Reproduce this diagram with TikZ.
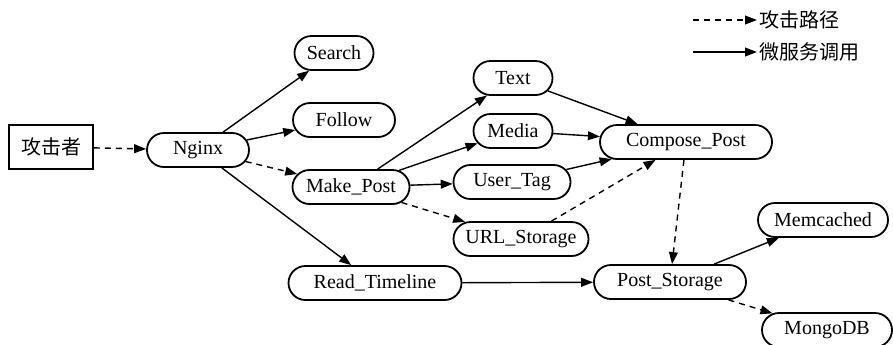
\documentclass[tikz,border=0pt]{standalone}
\usepackage{fontspec}
\setmainfont{Liberation Serif}
\newfontfamily\cjk{Noto Sans CJK SC}
\usetikzlibrary{arrows.meta,shapes.misc}

\begin{document}
\begin{tikzpicture}[
    x=0.5pt,y=-0.5pt,
    font=\fontsize{10}{12}\selectfont,
    svc/.style={rounded rectangle,draw,line width=0.9pt,
      minimum height=17pt,inner sep=2pt},
    src/.style={rectangle,draw,line width=0.9pt,
      minimum width=42pt,minimum height=22pt},
    call/.style={-{Triangle[length=6pt,width=4.4pt]},line width=0.7pt},
    attack/.style={call,dash pattern=on 3pt off 2.5pt}
  ]
    \useasboundingbox (0,0) rectangle (893,344);

    % services
    \node[src] (atk) at (51,147) {\cjk 攻击者};
    \node[svc,minimum width=55pt] (nginx) at (198,150) {Nginx};
    \node[svc,minimum width=43.5pt] (search) at (334,53) {Search};
    \node[svc,minimum width=55pt] (follow) at (344,120) {Follow};
    \node[svc,minimum width=62.5pt] (make) at (351,187) {Make\_Post};
    \node[svc,minimum width=43.5pt] (text) at (513,78) {Text};
    \node[svc,minimum width=43.5pt] (media) at (513,131) {Media};
    \node[svc,minimum width=62.5pt] (utag) at (512,182) {User\_Tag};
    \node[svc,minimum width=71.5pt] (url) at (521,239) {URL\_Storage};
    \node[svc,minimum width=90pt] (compose) at (686,142) {Compose\_Post};
    \node[svc,minimum width=90.5pt] (read) at (375,283) {Read\_Timeline};
    \node[svc,minimum width=80pt] (pstore) at (670,282) {Post\_Storage};
    \node[svc,minimum width=69pt] (memc) at (823,220) {Memcached};
    \node[svc,minimum width=69pt] (mongo) at (827,330) {MongoDB};

    % calls
    \draw[attack] (atk) -- (nginx);
    \draw[call] (nginx) -- (search);
    \draw[call] (nginx) -- (follow);
    \draw[attack] (nginx) -- (make);
    \draw[call] (nginx) -- (read);
    \draw[call] (make) -- (text);
    \draw[call] (make) -- (media);
    \draw[call] (make) -- (utag);
    \draw[attack] (make) -- (url);
    \draw[call] (text) -- (compose);
    \draw[call] (media) -- (compose);
    \draw[call] (utag) -- (compose);
    \draw[attack] (url) -- (compose);
    \draw[attack] (compose) -- (pstore);
    \draw[call] (read) -- (pstore);
    \draw[call] (pstore) -- (memc);
    \draw[attack] (pstore) -- (mongo);

    % legend
    \coordinate (la) at (693,20);
    \coordinate (lb) at (693,52);
    \node[anchor=west,inner sep=1pt] (lattack) at (757,20) {\cjk 攻击路径};
    \node[anchor=west,inner sep=1pt] (lcall) at (757,52) {\cjk 微服务调用};
    \draw[attack] (la) -- (lattack.west);
    \draw[call] (lb) -- (lcall.west);
\end{tikzpicture}
\end{document}
